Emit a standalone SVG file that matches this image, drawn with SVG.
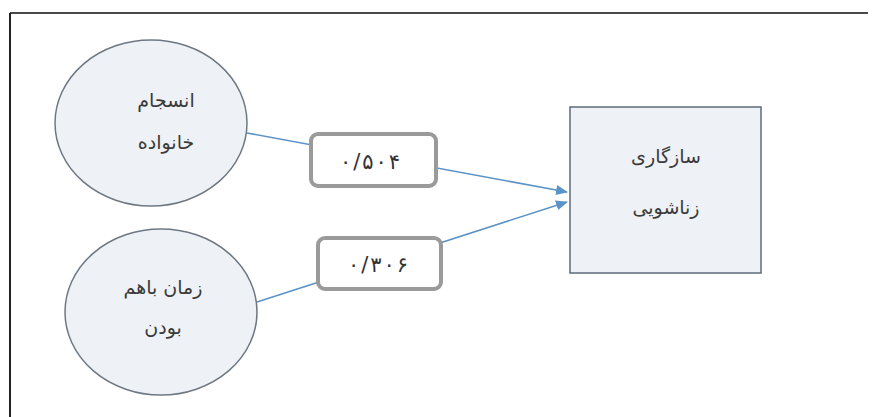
<svg xmlns="http://www.w3.org/2000/svg" width="873" height="417" viewBox="0 0 873 417">
<style>
.t{font-family:"DejaVu Sans","Noto Sans",sans-serif;font-size:19px;fill:#3a3a3a;text-anchor:middle}
.n{font-family:"DejaVu Sans","Noto Sans",sans-serif;font-size:21px;fill:#333;text-anchor:middle;direction:ltr}
.ell{fill:#eef1f5;stroke:#6e7883;stroke-width:1.5}
.lab{fill:#ffffff;stroke:#9a9a9a;stroke-width:4}
.con{stroke:#5b93c7;stroke-width:1.6;fill:none;marker-end:url(#ah)}
</style>
<defs>
<marker id="ah" viewBox="0 0 12 10" refX="11" refY="5" markerWidth="12" markerHeight="10" markerUnits="userSpaceOnUse" orient="auto">
<path d="M0,0 L12,5 L0,10 Z" fill="#5b93c7"/>
</marker>
</defs>
<rect width="873" height="417" fill="#ffffff"/>
<g id="frame">
<line x1="10" y1="13" x2="868" y2="13" stroke="#484848" stroke-width="2"/>
<line x1="10" y1="13" x2="10" y2="417" stroke="#222" stroke-width="2"/>
</g>
<g id="connectors">
<line class="con" x1="247" y1="133" x2="567" y2="192"/>
<line class="con" x1="257" y1="302" x2="567" y2="202"/>
</g>
<g id="n1">
<ellipse class="ell" cx="151" cy="123" rx="96" ry="83"/>
<text class="t" x="166" y="107">انسجام</text>
<text class="t" x="166" y="149">خانواده</text>
</g>
<g id="n2">
<ellipse class="ell" cx="161" cy="312" rx="96" ry="83"/>
<text class="t" x="163" y="294">زمان باهم</text>
<text class="t" x="163" y="334">بودن</text>
</g>
<g id="n3">
<rect x="570" y="107" width="191" height="166" fill="#eef1f5" stroke="#5d6b79" stroke-width="1.5"/>
<text class="t" x="666" y="163">سازگاری</text>
<text class="t" x="666" y="214">زناشویی</text>
</g>
<g id="l1">
<rect class="lab" x="311" y="134" width="125" height="52" rx="7"/>
<text class="n" x="370" y="169" textLength="60" lengthAdjust="spacing">۰/۵۰۴</text>
</g>
<g id="l2">
<rect class="lab" x="318" y="238" width="123" height="51" rx="7"/>
<text class="n" x="378" y="272" textLength="60" lengthAdjust="spacing">۰/۳۰۶</text>
</g>
</svg>
